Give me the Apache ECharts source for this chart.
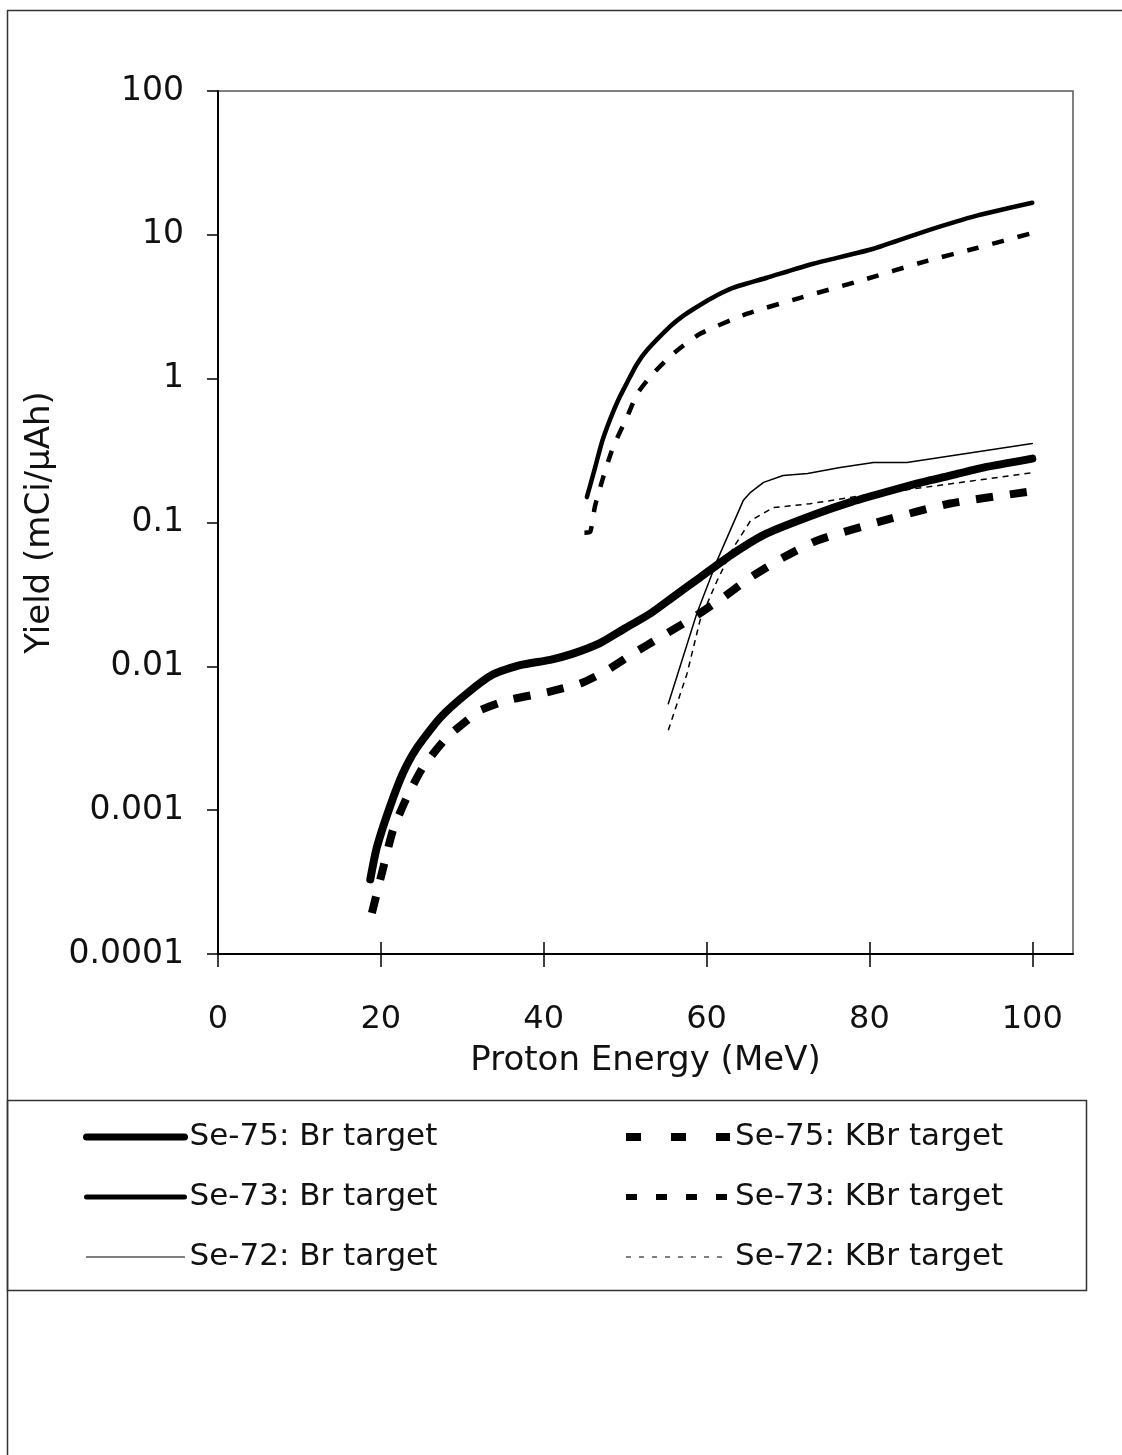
<!DOCTYPE html>
<html>
<head>
<meta charset="utf-8">
<script src="https://cdn.jsdelivr.net/npm/echarts@6/dist/echarts.min.js"></script>
<style>
  html, body { margin: 0; padding: 0; background: #fff; }
  #chart { width: 1122px; height: 1455px; }
</style>
</head>
<body>
<div id="chart"></div>
<script>
// ---- data (Proton Energy MeV, Yield mCi/µAh) ----
const se75Br = [[18.7,0.00033],[19.5,0.00055],[21.1,0.00105],[22.7,0.0018],[24.4,0.0027],[27.3,0.0044],[30.6,0.0065],[33.8,0.0088],[37.1,0.0102],[40.8,0.0111],[43.5,0.0122],[46.9,0.0145],[50.0,0.0184],[53.1,0.0233],[56.1,0.031],[59.2,0.0415],[63.3,0.061],[67.4,0.084],[73.6,0.1155],[77.6,0.138],[81.7,0.161],[85.9,0.187],[89.9,0.212],[94.0,0.241],[100,0.278]];
const se75KBr = [[18.9,0.000193],[20.3,0.0004],[21.5,0.00073],[23.2,0.00123],[25.2,0.002],[28.1,0.0032],[31.0,0.0044],[32.0,0.0049],[35.5,0.0058],[40.4,0.0066],[44.5,0.0076],[47.8,0.0094],[51.0,0.0123],[54.3,0.0159],[58.4,0.0219],[62.0,0.030],[65.4,0.0415],[69.4,0.057],[73.6,0.075],[81.7,0.103],[89.9,0.1355],[100,0.165]];
const se73Br = [[45.3,0.15],[46.3,0.24],[47.2,0.37],[48.2,0.53],[49.2,0.72],[50.2,0.93],[51.4,1.25],[52.7,1.58],[55.5,2.3],[57.0,2.7],[58.4,3.05],[60.5,3.6],[63.3,4.29],[67.4,5.03],[73.1,6.29],[80.5,8.0],[87.1,10.7],[93.2,13.6],[100,16.7]];
const se73KBr = [[45.0,0.085],[45.7,0.086],[46.3,0.13],[47.3,0.206],[48.5,0.332],[50.2,0.536],[51.5,0.787],[53.4,1.08],[55.9,1.49],[59.2,2.05],[65.0,2.83],[71.5,3.65],[78.9,4.8],[87.1,6.6],[93.2,8.1],[100,10.3]];
const se72Br = [[55.3,0.0055],[58.8,0.0233],[61.3,0.0545],[64.5,0.142],[65.4,0.162],[67.0,0.19],[69.4,0.212],[72.4,0.219],[76.4,0.241],[80.5,0.261],[84.6,0.261],[100,0.354]];
const se72KBr = [[55.3,0.0036],[57.6,0.0089],[59.2,0.0209],[61.3,0.0395],[63.3,0.067],[65.4,0.103],[68.2,0.127],[72.7,0.135],[79.2,0.154],[86.6,0.175],[100,0.222]];

const seriesNames = ['Se-75: Br target','Se-75: KBr target','Se-73: Br target','Se-73: KBr target','Se-72: Br target','Se-72: KBr target'];
const xTickValues = [0,20,40,60,80,100];
const yTickLabels = ['0.0001','0.001','0.01','0.1','1','10','100'];

const FONT = 'DejaVu Sans';
const INK = '#111';

const chart = echarts.init(document.getElementById('chart'), null, { renderer: 'canvas' });

function lineSeries(name, data, width, type, smooth) {
  return {
    name: name, type: 'line', data: data, xAxisIndex: 0, yAxisIndex: 0,
    symbol: 'none', showSymbol: false, smooth: smooth,
    lineStyle: { color: '#000', width: width, type: type, cap: type === 'solid' ? 'round' : 'butt', join: 'round' },
    emphasis: { disabled: true }, silent: true
  };
}

const option = {
  animation: false,
  backgroundColor: '#fff',
  grid: { left: 218, top: 91, width: 855, height: 863, show: true, borderColor: '#555', borderWidth: 1.5, containLabel: false },
  xAxis: [{
    type: 'value', min: 0, max: 105, position: 'bottom',
    name: 'Proton Energy (MeV)', nameLocation: 'middle', nameGap: 90,
    nameTextStyle: { fontFamily: FONT, fontSize: 34, color: INK },
    axisLine: { show: true, lineStyle: { color: '#000', width: 2 } },
    axisTick: { show: true, inside: false, length: 13, customValues: xTickValues, lineStyle: { color: '#000', width: 1.5 } },
    axisLabel: { show: true, customValues: xTickValues, margin: 50, fontFamily: FONT, fontSize: 32, color: INK },
    splitLine: { show: false }
  }, {
    type: 'value', min: 0, max: 105, position: 'bottom',
    axisLine: { show: false },
    axisTick: { show: true, inside: true, length: 12, customValues: xTickValues, lineStyle: { color: '#000', width: 1.5 } },
    axisLabel: { show: false },
    splitLine: { show: false }
  }],
  yAxis: {
    type: 'log', logBase: 10, min: 0.0001, max: 100,
    name: 'Yield (mCi/µAh)', nameLocation: 'middle', nameGap: 148, nameRotate: 90,
    nameTextStyle: { fontFamily: FONT, fontSize: 34, color: INK },
    axisLine: { show: true, lineStyle: { color: '#000', width: 2 } },
    axisTick: { show: true, inside: false, length: 11, lineStyle: { color: '#000', width: 1.5 } },
    axisLabel: {
      margin: 34, fontFamily: FONT, fontSize: 33, color: INK,
      formatter: function (v) { const i = Math.round(Math.log10(v)) + 4; return yTickLabels[i] || ''; }
    },
    splitLine: { show: false }, minorTick: { show: false }
  },
  legend: [{
    left: 83, top: 1119, orient: 'vertical', itemWidth: 98, itemHeight: 14, itemGap: 24,
    selectedMode: false, padding: 0,
    textStyle: { fontFamily: FONT, fontSize: 31, color: INK, lineHeight: 36 },
    itemStyle: { opacity: 0 },
    data: [
      { name: seriesNames[0], lineStyle: { color: '#000', width: 7, type: 'solid' }, itemStyle: { opacity: 0 } },
      { name: seriesNames[2], lineStyle: { color: '#000', width: 5, type: 'solid' }, itemStyle: { opacity: 0 } },
      { name: seriesNames[4], lineStyle: { color: '#000', width: 1.2, type: 'solid' }, itemStyle: { opacity: 0 } }
    ]
  }, {
    left: 622, top: 1119, orient: 'vertical', itemWidth: 104, itemHeight: 14, itemGap: 24,
    selectedMode: false, padding: 0,
    textStyle: { fontFamily: FONT, fontSize: 31, color: INK, lineHeight: 36 },
    itemStyle: { opacity: 0 },
    data: [
      { name: seriesNames[1], lineStyle: { color: '#000', width: 8, type: [15, 30] }, itemStyle: { opacity: 0 } },
      { name: seriesNames[3], lineStyle: { color: '#000', width: 6, type: [11, 19] }, itemStyle: { opacity: 0 } },
      { name: seriesNames[5], lineStyle: { color: '#000', width: 1.2, type: [5, 8] }, itemStyle: { opacity: 0 } }
    ]
  }],
  graphic: [
    { type: 'line', silent: true, shape: { x1: 7.5, y1: 10, x2: 7.5, y2: 1455 }, style: { stroke: '#333', lineWidth: 1.5 } },
    { type: 'line', silent: true, shape: { x1: 7, y1: 10.5, x2: 1122, y2: 10.5 }, style: { stroke: '#333', lineWidth: 1.5 } },
    { type: 'rect', silent: true, shape: { x: 7.5, y: 1100.5, width: 1079, height: 190 }, style: { fill: 'none', stroke: '#333', lineWidth: 1.5 } }
  ],
  series: [
    lineSeries(seriesNames[0], se75Br, 8, 'solid', 0.2),
    lineSeries(seriesNames[1], se75KBr, 8, [17, 17], 0.2),
    lineSeries(seriesNames[2], se73Br, 4.5, 'solid', 0.2),
    lineSeries(seriesNames[3], se73KBr, 4.5, [12, 14], 0.2),
    lineSeries(seriesNames[4], se72Br, 1.5, 'solid', false),
    lineSeries(seriesNames[5], se72KBr, 1.5, [6, 5], false)
  ]
};
chart.setOption(option);
</script>
</body>
</html>
